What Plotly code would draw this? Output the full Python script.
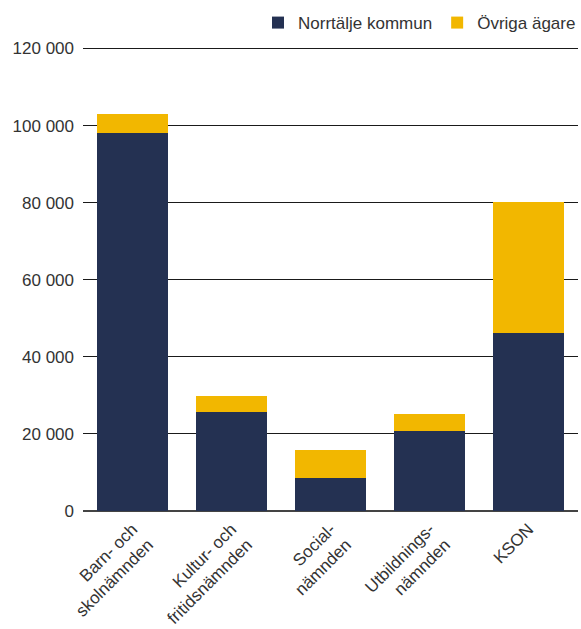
import plotly.graph_objects as go

categories = ["Barn- och<br>skolnämnden", "Kultur- och<br>fritidsnämnden", "Social-<br>nämnden",
              "Utbildnings-<br>nämnden", "KSON"]
norrtalje = [98000, 25600, 8500, 20700, 46100]
ovriga = [4900, 4200, 7400, 4400, 34000]
tick_vals = [0, 20000, 40000, 60000, 80000, 100000, 120000]
tick_text = ["0", "20 000", "40 000", "60 000", "80 000", "100 000", "120 000"]

fig = go.Figure()
fig.add_bar(x=categories, y=norrtalje, name="Norrtälje kommun", marker_color="#243152",
            marker_line_width=0)
fig.add_bar(x=categories, y=ovriga, name="Övriga ägare", marker_color="#F2B700",
            marker_line_width=0)

fig.update_layout(
    width=581, height=629,
    barmode="stack", bargap=0.28,
    margin=dict(l=83, r=3, t=47, b=118),
    plot_bgcolor="white", paper_bgcolor="white",
    font=dict(family="Liberation Sans, Arial, sans-serif", size=16, color="#333333"),
    legend=dict(orientation="h", xref="container", x=1.0, xanchor="right",
                yref="container", y=0.992, yanchor="top",
                font=dict(size=17, color="#333333"), traceorder="normal",
                itemwidth=30, tracegroupgap=0),
    showlegend=True,
)
fig.update_yaxes(range=[0, 120400], tickvals=tick_vals, ticktext=tick_text,
                 showgrid=True, gridcolor="#1a1a1a", gridwidth=1,
                 zeroline=True, zerolinecolor="#444444", zerolinewidth=2,
                 tickfont=dict(size=17, color="#333333"), ticks="", ticklabelstandoff=8,
                 automargin=False)
fig.update_xaxes(tickangle=-45, tickfont=dict(size=17, color="#333333"), showline=False,
                 automargin=False, ticklabelstandoff=4)

fig.write_html("out.html", config={"displayModeBar": False},
               post_script="document.body.style.margin='0';")
